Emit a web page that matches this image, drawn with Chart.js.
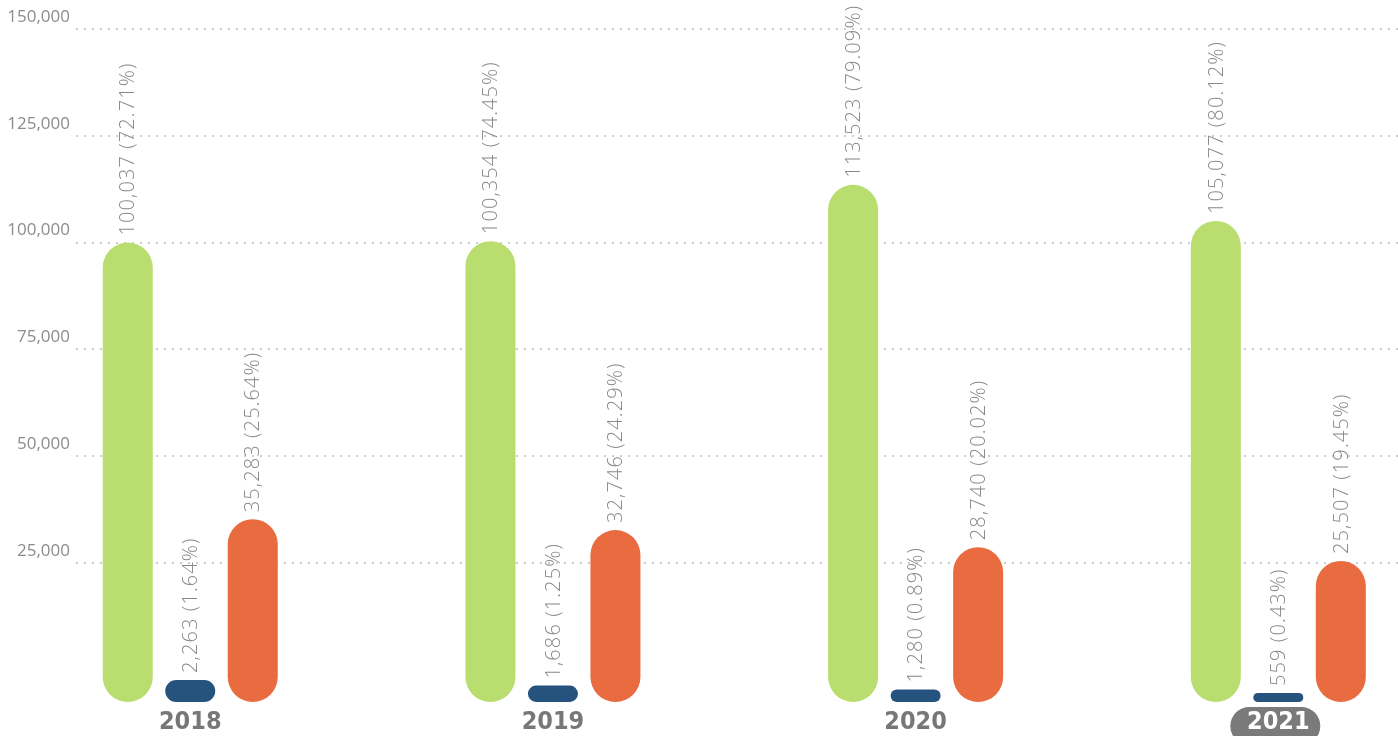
<!DOCTYPE html>
<html>
<head>
<meta charset="utf-8">
<script src="https://cdn.jsdelivr.net/npm/chart.js@4/dist/chart.umd.min.js"></script>
<style>
  html, body { margin: 0; padding: 0; background: #fff; }
  #wrap { width: 1398px; height: 736px; position: relative; }
</style>
</head>
<body>
<div id="wrap"><canvas id="myChart"></canvas></div>
<script>
// values
var years = ["2018", "2019", "2020", "2021"];
var greenValues = [100037, 100354, 113523, 105077];
var blueValues = [2263, 1686, 1280, 559];
var orangeValues = [35283, 32746, 28740, 25507];
var yTicks = [25000, 50000, 75000, 100000, 125000, 150000];

var totals = years.map(function (y, i) {
  return greenValues[i] + blueValues[i] + orangeValues[i];
});

function points(arr) {
  return arr.map(function (v, i) { return {x: i, y: v}; });
}

function labelFor(v, i) {
  return v.toLocaleString('en-US') + ' (' + (v / totals[i] * 100).toFixed(2) + '%)';
}

// rotated value labels above every pill
var valueLabels = {
  id: 'valueLabels',
  afterDatasetsDraw: function (chart) {
    var ctx = chart.ctx;
    ctx.save();
    ctx.fillStyle = '#888888';
    ctx.font = '300 20px "Open Sans", sans-serif';
    ctx.letterSpacing = '1.1px';
    ctx.textAlign = 'left';
    ctx.textBaseline = 'middle';
    chart.data.datasets.forEach(function (ds, di) {
      var meta = chart.getDatasetMeta(di);
      meta.data.forEach(function (bar, i) {
        ctx.save();
        ctx.translate(bar.x, bar.y - 7);
        ctx.rotate(-Math.PI / 2);
        ctx.fillText(labelFor(ds.data[i].y, i), 0, 1);
        ctx.restore();
      });
    });
    ctx.restore();
  }
};

// grey pill behind the last year
var yearPill = {
  id: 'yearPill',
  beforeDraw: function (chart) {
    var ctx = chart.ctx;
    var x = chart.scales.x.getPixelForValue(years.length - 1);
    ctx.save();
    ctx.fillStyle = '#7a7a7a';
    ctx.beginPath();
    ctx.roundRect(x - 48, 707, 90, 38, 19);
    ctx.fill();
    ctx.restore();
  }
};

var chart = new Chart(document.getElementById('myChart'), {
  type: 'bar',
  data: {
    datasets: [{
      data: points(greenValues),
      backgroundColor: '#b9de6f',
      base: -7500,
      yAxisID: 'y'
    }, {
      data: points(blueValues),
      backgroundColor: '#26527e',
      yAxisID: 'y2',
      minBarLength: 9
    }, {
      data: points(orangeValues),
      backgroundColor: '#e86c40',
      base: -7500,
      yAxisID: 'y'
    }]
  },
  options: {
    responsive: true,
    maintainAspectRatio: false,
    animation: false,
    layout: { padding: { top: 29, right: 0, left: 0, bottom: 0 } },
    datasets: {
      bar: {
        borderRadius: 25,
        borderSkipped: false,
        categoryPercentage: 0.517,
        barPercentage: 0.8
      }
    },
    plugins: {
      legend: { display: false },
      tooltip: { enabled: false }
    },
    scales: {
      x: {
        type: 'linear',
        offset: false,
        bounds: 'data',
        min: -0.315,
        max: 3.33,
        afterBuildTicks: function (axis) {
          axis.ticks = years.map(function (y, i) { return {value: i}; });
        },
        afterFit: function (axis) { axis.height = 34; },
        grid: { display: false, drawTicks: false, offset: false },
        border: { display: false },
        ticks: {
          padding: 5,
          autoSkip: false,
          maxRotation: 0,
          font: { family: "'DejaVu Sans Condensed', sans-serif", size: 25, weight: 'bold' },
          color: function (c) { return c.index === years.length - 1 ? '#ffffff' : '#777777'; },
          callback: function (v) { return years[v]; }
        }
      },
      y: {
        min: -7500,
        max: 150000,
        afterBuildTicks: function (axis) {
          axis.ticks = yTicks.map(function (v) { return {value: v}; });
        },
        afterFit: function (axis) { axis.width = 76; },
        grid: { color: '#cccccc', lineWidth: 2, drawTicks: false },
        border: { display: false, dash: [2, 6] },
        ticks: {
          padding: 6,
          labelOffset: -12,
          color: '#8c8c8c',
          font: { family: "'Open Sans', sans-serif", size: 17 },
          callback: function (v) { return v.toLocaleString('en-US'); }
        }
      },
      y2: {
        display: false,
        min: 0,
        max: 69000
      }
    }
  },
  plugins: [yearPill, valueLabels]
});
</script>
</body>
</html>
